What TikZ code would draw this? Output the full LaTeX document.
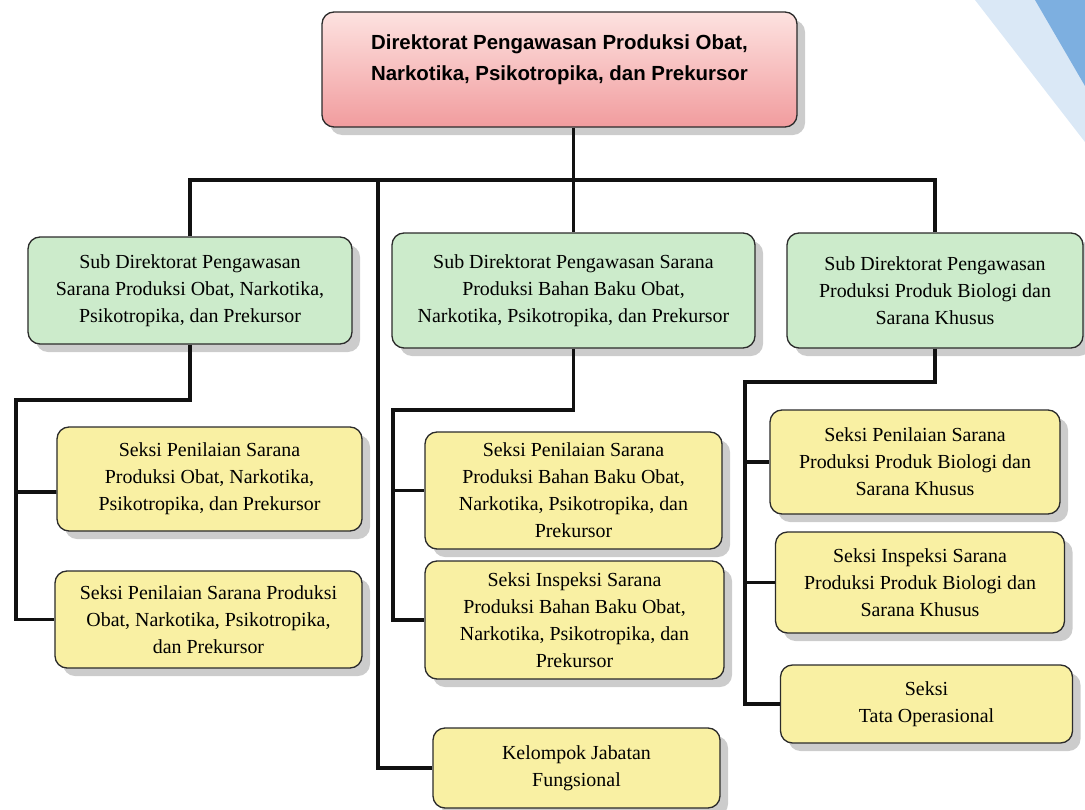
\documentclass[tikz,border=0pt]{standalone}
\usepackage{fontspec}
\setmainfont{Liberation Serif}
\newfontfamily\headFont{Liberation Sans}
\usetikzlibrary{shadows}
\definecolor{headTopColor}{HTML}{FDE2E0}
\definecolor{headBottomColor}{HTML}{F19C9E}
\definecolor{subFillColor}{HTML}{CCEBCB}
\definecolor{seksiFillColor}{HTML}{F9F0A3}
\definecolor{borderColor}{HTML}{2B2B2B}
\definecolor{shadowColor}{HTML}{CCCCCC}
\definecolor{linkColor}{HTML}{111111}
\definecolor{bandColorA}{HTML}{DAE8F6}
\definecolor{bandColorB}{HTML}{7DAFE0}

\tikzset{
  orgbox/.style={draw=borderColor, line width=1.3bp, rounded corners=12bp,
    inner sep=0pt, align=center,
    drop shadow={shadow xshift=8bp, shadow yshift=-8bp, fill=shadowColor, opacity=1}},
  headbox/.style={orgbox, top color=headTopColor, bottom color=headBottomColor},
  headtext/.style={inner sep=0pt, align=center, font=\headFont\bfseries\fontsize{20.5}{31}\selectfont},
  subbox/.style={orgbox, fill=subFillColor, font=\fontsize{20}{27}\selectfont},
  seksibox/.style={orgbox, fill=seksiFillColor, font=\fontsize{20}{27}\selectfont},
  link/.style={draw=linkColor, line width=3.6bp},
}

\begin{document}
\begin{tikzpicture}[x=1bp,y=-1bp]
\useasboundingbox (0, 0) rectangle (1085, 810);

% band layer
\begin{scope}
\fill[bandColorA] (975, 0) -- (1085, 0) -- (1085, 142) -- cycle;
\fill[bandColorB] (1035, 0) -- (1085, 0) -- (1085, 86) -- cycle;
\end{scope}

% box layer
\begin{scope}
\node[headbox, minimum width=475bp, minimum height=115bp] (dir) at (559.5, 69.5) {};
\node[headtext] (dirLabel) at ([yshift=10bp]dir.center)
{Direktorat Pengawasan Produksi Obat,\\Narkotika, Psikotropika, dan Prekursor};

\node[subbox, minimum width=324bp, minimum height=107bp] (subA) at (190, 290.5)
{Sub Direktorat Pengawasan\\Sarana Produksi Obat, Narkotika,\\Psikotropika, dan Prekursor};
\node[subbox, minimum width=363bp, minimum height=115bp] (subB) at (573.5, 290.5)
{Sub Direktorat Pengawasan Sarana\\Produksi Bahan Baku Obat,\\Narkotika, Psikotropika, dan Prekursor};
\node[subbox, minimum width=296bp, minimum height=115bp] (subC) at (935, 290.5)
{Sub Direktorat Pengawasan\\Produksi Produk Biologi dan\\Sarana Khusus};

\node[seksibox, minimum width=305bp, minimum height=104bp] (secA1) at (209.5, 479)
{Seksi Penilaian Sarana\\Produksi Obat, Narkotika,\\Psikotropika, dan Prekursor};
\node[seksibox, minimum width=307bp, minimum height=97bp] (secA2) at (208.5, 619.5)
{Seksi Penilaian Sarana Produksi\\Obat, Narkotika, Psikotropika,\\dan Prekursor};

\node[seksibox, minimum width=297bp, minimum height=117bp] (secB1) at (573.5, 490.5)
{Seksi Penilaian Sarana\\Produksi Bahan Baku Obat,\\Narkotika, Psikotropika, dan\\Prekursor};
\node[seksibox, minimum width=299bp, minimum height=118bp] (secB2) at (574.5, 620)
{Seksi Inspeksi Sarana\\Produksi Bahan Baku Obat,\\Narkotika, Psikotropika, dan\\Prekursor};
\node[seksibox, minimum width=287bp, minimum height=80bp] (kjf) at (576.5, 768)
{Kelompok Jabatan\\Fungsional};

\node[seksibox, minimum width=290bp, minimum height=104bp] (secC1) at (915, 462)
{Seksi Penilaian Sarana\\Produksi Produk Biologi dan\\Sarana Khusus};
\node[seksibox, minimum width=289bp, minimum height=101bp] (secC2) at (920, 582.5)
{Seksi Inspeksi Sarana\\Produksi Produk Biologi dan\\Sarana Khusus};
\node[seksibox, minimum width=292bp, minimum height=78bp] (secC3) at (926.5, 704)
{Seksi\\Tata Operasional};
\end{scope}

% link layer
\coordinate (bus) at (0, 180);
\coordinate (kjfTop) at (378, 180);
\coordinate (spineA) at (16, 400);
\coordinate (spineB) at (393, 410);
\coordinate (spineC) at (745, 382);
\begin{scope}
\draw[link] (dir.south -| subB.north) -- (subB.north);
\draw[link] (subA.north) |- (subC.north |- bus) -- (subC.north);
\draw[link] (kjfTop) |- (kjf.west);

\draw[link] (subA.south) |- (spineA) |- (secA2.west);
\draw[link] (spineA |- secA1.west) ++(0, 13) -- ([yshift=-13bp]secA1.west);

\draw[link] (subB.south) |- (spineB) |- (secB2.west);
\draw[link] (spineB |- secB1.west) -- (secB1.west);

\draw[link] (subC.south) |- (spineC) |- (secC3.west);
\draw[link] (spineC |- secC1.west) -- (secC1.west);
\draw[link] (spineC |- secC2.west) -- (secC2.west);
\end{scope}

\end{tikzpicture}
\end{document}
